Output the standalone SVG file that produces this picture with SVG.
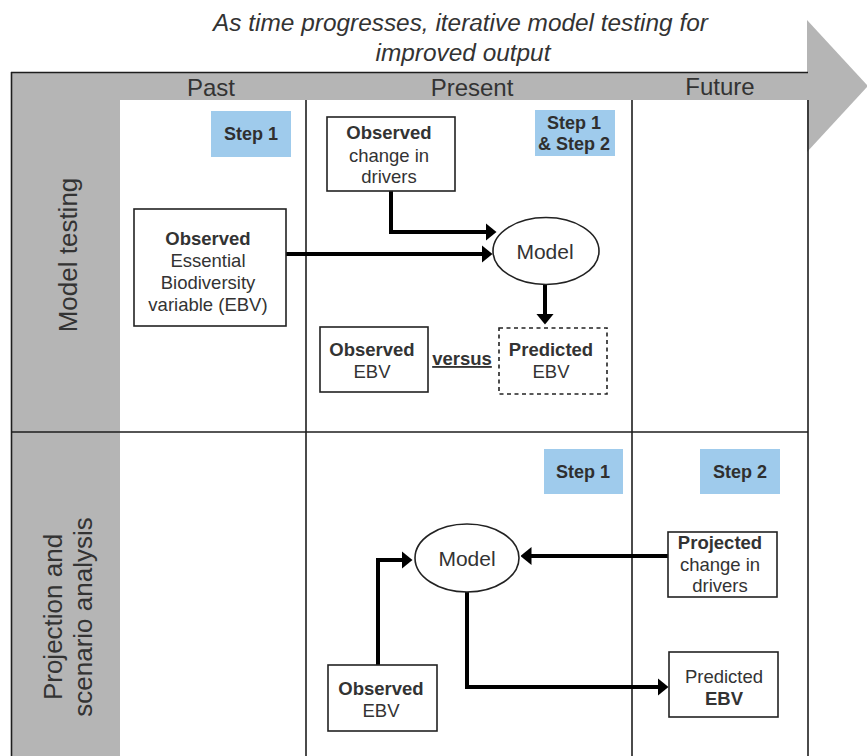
<svg xmlns="http://www.w3.org/2000/svg" width="867" height="756" viewBox="0 0 867 756">
<style>
text{font-family:"Liberation Sans",Arial,sans-serif;fill:#333;}
.hdr{font-size:24px;text-anchor:middle;}
.ttl{font-size:24.4px;font-style:italic;text-anchor:middle;}
.side{font-size:26px;text-anchor:middle;}
.t{font-size:18.5px;text-anchor:middle;}
.b{font-weight:bold;}
.step{fill:#9fcbec;}
.steptxt{font-size:18px;font-weight:bold;text-anchor:middle;fill:#2f2f2f;}
.box{fill:#fff;stroke:#222;stroke-width:1.6;}
.dash{fill:#fff;stroke:#222;stroke-width:1.6;stroke-dasharray:4 3.5;}
.grid{stroke:#1e1e1e;stroke-width:1.6;fill:none;}
.conn{stroke:#000;stroke-width:4;fill:none;}
.model{font-size:21px;text-anchor:middle;}
</style>
<defs>
<marker id="ah" viewBox="0 0 11 18" refX="0.5" refY="9" markerWidth="11" markerHeight="18" markerUnits="userSpaceOnUse" orient="auto">
<path d="M0,0 L11,9 L0,18 z" fill="#000"/>
</marker>
</defs>

<g id="frame">
<rect x="11" y="72" width="797" height="28" fill="#b5b5b5"/>
<rect x="11" y="72" width="109" height="684" fill="#b5b5b5"/>
<polygon points="807,20 868,86 807,152" fill="#b5b5b5"/>
<line class="grid" x1="11" y1="72.5" x2="808" y2="72.5"/>
<line class="grid" x1="11.5" y1="72" x2="11.5" y2="756"/>
<line class="grid" x1="808" y1="100" x2="808" y2="756"/>
<line class="grid" x1="306" y1="100" x2="306" y2="756"/>
<line class="grid" x1="632" y1="100" x2="632" y2="756"/>
<line class="grid" x1="11" y1="432" x2="808" y2="432"/>
</g>

<g id="title">
<text class="ttl" x="460.5" y="31">As time progresses, iterative model testing for</text>
<text class="ttl" x="463" y="61">improved output</text>
</g>

<g id="headers">
<text class="hdr" x="211" y="96">Past</text>
<text class="hdr" x="472" y="96">Present</text>
<text class="hdr" x="720" y="95">Future</text>
</g>

<g id="row-labels">
<text class="side" transform="translate(77,255) rotate(-90)">Model testing</text>
<text class="side" transform="translate(62,617) rotate(-90)">Projection and</text>
<text class="side" transform="translate(92,617) rotate(-90)">scenario analysis</text>
</g>

<g id="step1-top">
<rect class="step" x="211" y="111" width="80" height="46"/>
<text class="steptxt" x="251" y="140">Step 1</text>
</g>
<g id="step12-top">
<rect class="step" x="535" y="110" width="80" height="46"/>
<text class="steptxt" x="574" y="129">Step 1</text>
<text class="steptxt" x="574" y="150">&amp; Step 2</text>
</g>
<g id="step1-bottom">
<rect class="step" x="544" y="449" width="79" height="45"/>
<text class="steptxt" x="583" y="478">Step 1</text>
</g>
<g id="step2-bottom">
<rect class="step" x="700" y="449" width="80" height="45"/>
<text class="steptxt" x="740" y="478">Step 2</text>
</g>

<g id="connectors">
<path class="conn" d="M391,191 V232 H486" marker-end="url(#ah)"/>
<path class="conn" d="M286,254 H482" marker-end="url(#ah)"/>
<path class="conn" d="M545,284 V314" marker-end="url(#ah)"/>
<path class="conn" d="M378,665 V560 H402" marker-end="url(#ah)"/>
<path class="conn" d="M668,556 H531" marker-end="url(#ah)"/>
<path class="conn" d="M467,592 V687 H658" marker-end="url(#ah)"/>
</g>

<g id="obs-drivers">
<rect class="box" x="327" y="117" width="128" height="74"/>
<text class="t b" x="389" y="139">Observed</text>
<text class="t" x="389" y="162">change in</text>
<text class="t" x="389" y="183">drivers</text>
</g>

<g id="obs-ebv-past">
<rect class="box" x="134" y="209" width="152" height="117"/>
<text class="t b" x="208" y="245">Observed</text>
<text class="t" x="208" y="267">Essential</text>
<text class="t" x="208" y="289">Biodiversity</text>
<text class="t" x="208" y="311">variable (EBV)</text>
</g>

<g id="model-top">
<ellipse cx="546" cy="251" rx="53" ry="33.5" fill="#fff" stroke="#222" stroke-width="1.6"/>
<text class="model" x="545" y="259">Model</text>
</g>

<g id="obs-ebv-present">
<rect class="box" x="320" y="327" width="108" height="65"/>
<text class="t b" x="372" y="356">Observed</text>
<text class="t" x="372" y="378">EBV</text>
</g>

<g id="versus">
<text class="t b" x="462" y="365" text-decoration="underline">versus</text>
</g>

<g id="pred-ebv-present">
<rect class="dash" x="499" y="328" width="108" height="66"/>
<text class="t b" x="551" y="356">Predicted</text>
<text class="t" x="551" y="378">EBV</text>
</g>

<g id="model-bottom">
<ellipse cx="467" cy="558" rx="52" ry="34" fill="#fff" stroke="#222" stroke-width="1.6"/>
<text class="model" x="467" y="566">Model</text>
</g>

<g id="projected-drivers">
<rect class="box" x="668" y="532" width="109" height="65"/>
<text class="t b" x="720" y="549">Projected</text>
<text class="t" x="720" y="571">change in</text>
<text class="t" x="720" y="592">drivers</text>
</g>

<g id="pred-ebv-future">
<rect class="box" x="669" y="652" width="109" height="65"/>
<text class="t" x="724" y="683">Predicted</text>
<text class="t b" x="724" y="705">EBV</text>
</g>

<g id="obs-ebv-bottom">
<rect class="box" x="328" y="665" width="109" height="66"/>
<text class="t b" x="381" y="695">Observed</text>
<text class="t" x="381" y="717">EBV</text>
</g>
</svg>
